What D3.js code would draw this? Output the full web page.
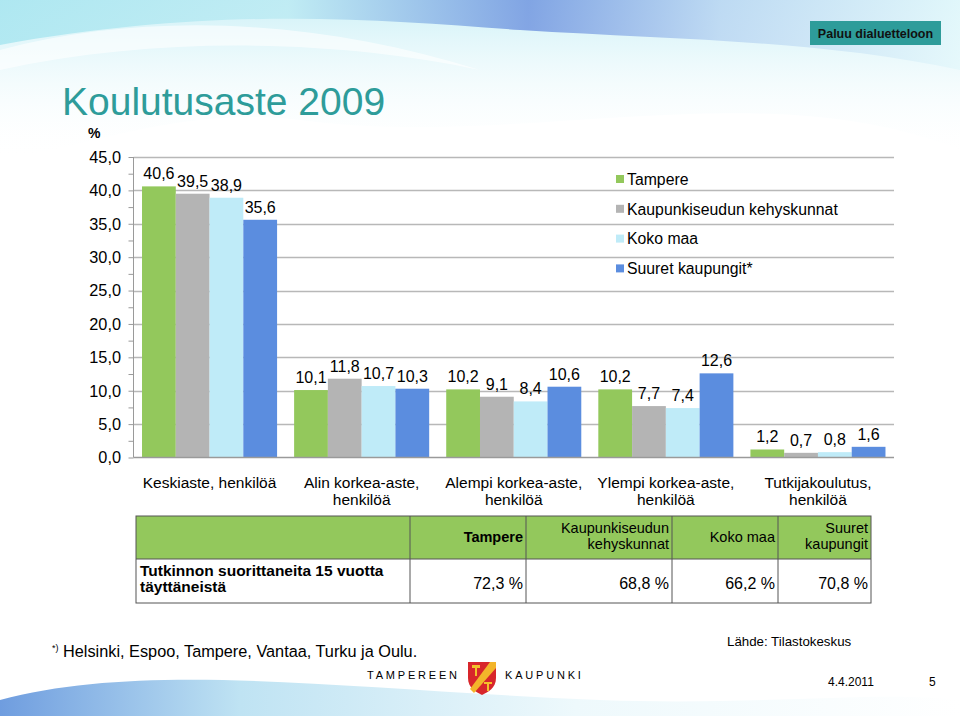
<!DOCTYPE html>
<html lang="fi">
    <head>
        <meta charset="utf-8">
        <title>Koulutusaste 2009</title>
        <script src="https://d3js.org/d3.v7.min.js"></script>
        <style>
            body { margin: 0; background: #fff; }
            svg { display: block; font-family: "Liberation Sans", Arial, sans-serif; }
        </style>
    </head>
    <body>
        <script type="text/javascript">
            // data
            var categories = ["Keskiaste, henkilöä", "Alin korkea-aste, henkilöä", "Alempi korkea-aste, henkilöä",
                              "Ylempi korkea-aste, henkilöä", "Tutkijakoulutus, henkilöä"];
            var categoryLines = [["Keskiaste, henkilöä"], ["Alin korkea-aste,", "henkilöä"], ["Alempi korkea-aste,", "henkilöä"],
                                 ["Ylempi korkea-aste,", "henkilöä"], ["Tutkijakoulutus,", "henkilöä"]];
            var seriesNames = ["Tampere", "Kaupunkiseudun kehyskunnat", "Koko maa", "Suuret kaupungit*"];
            var tampere = [40.6, 10.1, 10.2, 10.2, 1.2];
            var kehyskunnat = [39.5, 11.8, 9.1, 7.7, 0.7];
            var kokoMaa = [38.9, 10.7, 8.4, 7.4, 0.8];
            var suuret = [35.6, 10.3, 10.6, 12.6, 1.6];
            var yTicks = [0, 5, 10, 15, 20, 25, 30, 35, 40, 45];

            var tableHeaders = [["Tampere"], ["Kaupunkiseudun", "kehyskunnat"], ["Koko maa"], ["Suuret", "kaupungit"]];
            var tableRowLabel = ["Tutkinnon suorittaneita 15 vuotta", "täyttäneistä"];
            var tableValues = [72.3, 68.8, 66.2, 70.8];

            const GREEN = "#93c85c";
            const GRAY = "#b4b4b4";
            const LIGHT = "#bfebf8";
            const BLUE = "#5b8ddf";
            const TEAL = "#2e9c9a";
            const GRID = "#b8b8b8";

            var colors = [GREEN, GRAY, LIGHT, BLUE];
            var seriesValues = [tampere, kehyskunnat, kokoMaa, suuret];
            var fmt = function(v) { return d3.format(".1f")(v).replace(".", ","); };

            var width = 960,
                height = 716;

            var svg = d3.select("body").append("svg")
                .attr("width", width)
                .attr("height", height);

            // background waves
            var defs = svg.append("defs");
            var g1 = defs.append("linearGradient").attr("id", "topGrad").attr("x1", 0).attr("x2", 1).attr("y1", 0).attr("y2", 0);
            g1.append("stop").attr("offset", "0%").attr("stop-color", "#a9e6f0");
            g1.append("stop").attr("offset", "30%").attr("stop-color", "#bdebf3");
            g1.append("stop").attr("offset", "55%").attr("stop-color", "#7397e0");
            g1.append("stop").attr("offset", "75%").attr("stop-color", "#bad6f2");
            g1.append("stop").attr("offset", "100%").attr("stop-color", "#e4f8fb");
            var g2 = defs.append("linearGradient").attr("id", "fadeGrad").attr("x1", 0).attr("x2", 0).attr("y1", 0).attr("y2", 1);
            g2.append("stop").attr("offset", "0%").attr("stop-color", "#c8eff6").attr("stop-opacity", 0.9);
            g2.append("stop").attr("offset", "100%").attr("stop-color", "#ffffff").attr("stop-opacity", 0);
            var g3 = defs.append("linearGradient").attr("id", "botGrad").attr("x1", 0).attr("x2", 1).attr("y1", 0).attr("y2", 0);
            g3.append("stop").attr("offset", "0%").attr("stop-color", "#6f9ddf");
            g3.append("stop").attr("offset", "25%").attr("stop-color", "#bfe3f3");
            g3.append("stop").attr("offset", "60%").attr("stop-color", "#eef9fc");
            g3.append("stop").attr("offset", "100%").attr("stop-color", "#ffffff");

            svg.append("path")
                .attr("d", "M0,0 H960 V150 C760,70 520,150 300,120 C180,105 80,150 0,160 Z")
                .attr("fill", "url(#fadeGrad)");
            svg.append("path")
                .attr("d", "M0,0 H960 V70 C820,40 680,40 520,30 C380,20 220,5 0,45 Z")
                .attr("fill", "url(#topGrad)")
                .attr("opacity", 0.85);
            svg.append("path")
                .attr("d", "M0,50 C150,10 320,20 480,70 C340,40 160,35 0,70 Z")
                .attr("fill", "#ffffff")
                .attr("opacity", 0.6);
            svg.append("path")
                .attr("d", "M0,716 V700 C150,660 350,690 600,700 C760,706 880,690 960,700 V716 Z")
                .attr("fill", "url(#botGrad)");

            // button
            svg.append("rect")
                .attr("x", 810).attr("y", 21).attr("width", 131).attr("height", 24)
                .attr("fill", TEAL);
            svg.append("text")
                .attr("x", 875.5).attr("y", 37.5)
                .attr("text-anchor", "middle")
                .attr("font-size", 12.5).attr("font-weight", "bold")
                .attr("fill", "#111")
                .text("Paluu dialuetteloon");

            // title
            svg.append("text")
                .attr("x", 62).attr("y", 115)
                .attr("font-size", 39)
                .attr("fill", TEAL)
                .text("Koulutusaste 2009");
            svg.append("text")
                .attr("x", 88).attr("y", 138)
                .attr("font-size", 14).attr("font-weight", "bold")
                .text("%");

            // scales
            var y = d3.scaleLinear().domain([0, 45]).range([457.5, 157]);
            var x0 = d3.scaleBand().domain(categories).range([133.5, 894])
                .paddingInner(0.112).paddingOuter(0.056);
            var x1 = d3.scaleBand().domain(seriesNames).range([0, x0.bandwidth()]);

            // grid
            svg.append("g")
                .selectAll("line")
                .data(yTicks.filter(function(d) { return d > 0; }))
                .join("line")
                .attr("x1", 133.5).attr("x2", 894)
                .attr("y1", function(d) { return Math.round(y(d)) + 0.5; })
                .attr("y2", function(d) { return Math.round(y(d)) + 0.5; })
                .attr("stroke", GRID).attr("stroke-width", 1.3);

            // y axis
            var yAxis = svg.append("g")
                .attr("transform", "translate(133.5,0)")
                .call(d3.axisLeft(y).tickValues(d3.range(0, 45.1, 2.5)).tickSize(5).tickFormat(""));
            yAxis.selectAll("line, path").attr("stroke", "#9a9a9a");
            yAxis.select(".domain").attr("d", "M0," + y(45) + "V" + y(0));

            svg.append("g")
                .selectAll("text")
                .data(yTicks)
                .join("text")
                .attr("x", 121).attr("y", function(d) { return y(d); })
                .attr("dy", "0.36em")
                .attr("text-anchor", "end")
                .attr("font-size", 16.3)
                .text(function(d) { return fmt(d); });

            // legend
            var legend = svg.append("g")
                .selectAll("g")
                .data(seriesNames)
                .join("g")
                .attr("transform", function(d, i) { return "translate(616," + (179 + i * 29.8) + ")"; });
            legend.append("rect")
                .attr("x", 0).attr("y", -4).attr("width", 8).attr("height", 8)
                .attr("fill", function(d, i) { return colors[i]; });
            legend.append("text")
                .attr("x", 11).attr("dy", "0.36em")
                .attr("font-size", 15.8)
                .text(function(d) { return d; });

            // bars
            var groups = svg.append("g")
                .selectAll("g")
                .data(categories)
                .join("g")
                .attr("transform", function(d) { return "translate(" + x0(d) + ",0)"; });

            groups.each(function(cat, ci) {
                var grp = d3.select(this);
                var vals = seriesNames.map(function(s, si) { return {s: s, i: si, v: seriesValues[si][ci]}; });
                grp.selectAll("rect")
                    .data(vals)
                    .join("rect")
                    .attr("x", function(d) { return x1(d.s); })
                    .attr("width", x1.bandwidth())
                    .attr("y", function(d) { return y(d.v); })
                    .attr("height", function(d) { return y(0) - y(d.v); })
                    .attr("fill", function(d) { return colors[d.i]; });
                grp.selectAll("text")
                    .data(vals)
                    .join("text")
                    .attr("x", function(d) { return x1(d.s) + x1.bandwidth() / 2; })
                    .attr("y", function(d) { return y(d.v) - 7; })
                    .attr("text-anchor", "middle")
                    .attr("font-size", 16)
                    .text(function(d) { return fmt(d.v); });
            });

            // x axis line
            svg.append("line")
                .attr("x1", 133.5).attr("x2", 894)
                .attr("y1", 457.5).attr("y2", 457.5)
                .attr("stroke", "#9a9a9a").attr("stroke-width", 1.3);

            // category labels
            svg.append("g")
                .selectAll("text")
                .data(categories)
                .join("text")
                .attr("x", function(d) { return x0(d) + x0.bandwidth() / 2; })
                .attr("y", 488)
                .attr("text-anchor", "middle")
                .attr("font-size", 15.5)
                .each(function(d, i) {
                    d3.select(this).selectAll("tspan")
                        .data(categoryLines[i])
                        .join("tspan")
                        .attr("x", x0(d) + x0.bandwidth() / 2)
                        .attr("dy", function(l, j) { return j === 0 ? 0 : 17; })
                        .text(function(l) { return l; });
                });

            // table
            var colEdges = [136, 410, 526, 672, 778, 871];
            var rowEdges = [516, 559, 603];
            var table = svg.append("g");
            table.append("rect")
                .attr("x", colEdges[0]).attr("y", rowEdges[0])
                .attr("width", colEdges[5] - colEdges[0]).attr("height", rowEdges[1] - rowEdges[0])
                .attr("fill", GREEN);
            table.append("rect")
                .attr("x", colEdges[0]).attr("y", rowEdges[0])
                .attr("width", colEdges[5] - colEdges[0]).attr("height", rowEdges[2] - rowEdges[0])
                .attr("fill", "none").attr("stroke", "#555").attr("stroke-width", 1);
            table.append("line")
                .attr("x1", colEdges[0]).attr("x2", colEdges[5])
                .attr("y1", rowEdges[1]).attr("y2", rowEdges[1])
                .attr("stroke", "#555");
            table.selectAll(".vline")
                .data(colEdges.slice(1, 5))
                .join("line")
                .attr("class", "vline")
                .attr("x1", function(d) { return d; }).attr("x2", function(d) { return d; })
                .attr("y1", rowEdges[0]).attr("y2", rowEdges[2])
                .attr("stroke", "#555");

            table.selectAll(".head")
                .data(tableHeaders)
                .join("text")
                .attr("class", "head")
                .attr("text-anchor", "end")
                .attr("font-size", 14.5)
                .attr("font-weight", function(d, i) { return i === 0 ? "bold" : "normal"; })
                .attr("y", function(d) { return d.length === 1 ? 542 : 533; })
                .each(function(d, i) {
                    d3.select(this).selectAll("tspan")
                        .data(d)
                        .join("tspan")
                        .attr("x", colEdges[i + 2] - 3)
                        .attr("dy", function(l, j) { return j === 0 ? 0 : 16; })
                        .text(function(l) { return l; });
                });

            table.selectAll(".val")
                .data(tableValues)
                .join("text")
                .attr("class", "val")
                .attr("x", function(d, i) { return colEdges[i + 2] - 3; })
                .attr("y", 589)
                .attr("text-anchor", "end")
                .attr("font-size", 16)
                .text(function(d) { return fmt(d) + " %"; });

            table.append("text")
                .attr("y", 576)
                .attr("font-size", 15.5).attr("font-weight", "bold")
                .selectAll("tspan")
                .data(tableRowLabel)
                .join("tspan")
                .attr("x", 140)
                .attr("dy", function(l, j) { return j === 0 ? 0 : 16; })
                .text(function(l) { return l; });

            // footer
            var note = svg.append("text")
                .attr("x", 52).attr("y", 657)
                .attr("font-size", 16.3);
            note.append("tspan").attr("font-size", 9).attr("dy", -6).text("*)");
            note.append("tspan").attr("dy", 6).text(" Helsinki, Espoo, Tampere, Vantaa, Turku ja Oulu.");

            svg.append("text")
                .attr("x", 727).attr("y", 646)
                .attr("font-size", 13.3)
                .text("Lähde: Tilastokeskus");
            svg.append("text")
                .attr("x", 828).attr("y", 686)
                .attr("font-size", 12)
                .text("4.4.2011");
            svg.append("text")
                .attr("x", 929).attr("y", 686)
                .attr("font-size", 12)
                .text("5");

            // logo
            svg.append("text")
                .attr("x", 367).attr("y", 679)
                .attr("font-size", 11).attr("letter-spacing", 2.8)
                .text("TAMPEREEN");
            svg.append("text")
                .attr("x", 505).attr("y", 679)
                .attr("font-size", 11).attr("letter-spacing", 2.8)
                .text("KAUPUNKI");
            var shield = svg.append("g").attr("transform", "translate(468,662)");
            shield.append("path")
                .attr("d", "M0,0 H28 V16 C28,26 20,30 14,33 C8,30 0,26 0,16 Z")
                .attr("fill", "#d8262b");
            shield.append("path")
                .attr("d", "M22,0 H28 V6 L6,31 L2,27 Z")
                .attr("fill", "#f3b52a");
            shield.append("path")
                .attr("d", "M4,3 H12 V6 H9 V14 H7 V6 H4 Z M16,20 H24 V22 H21 V29 H19 V22 H16 Z")
                .attr("fill", "#f3c12a");
        </script>
    </body>
</html>
